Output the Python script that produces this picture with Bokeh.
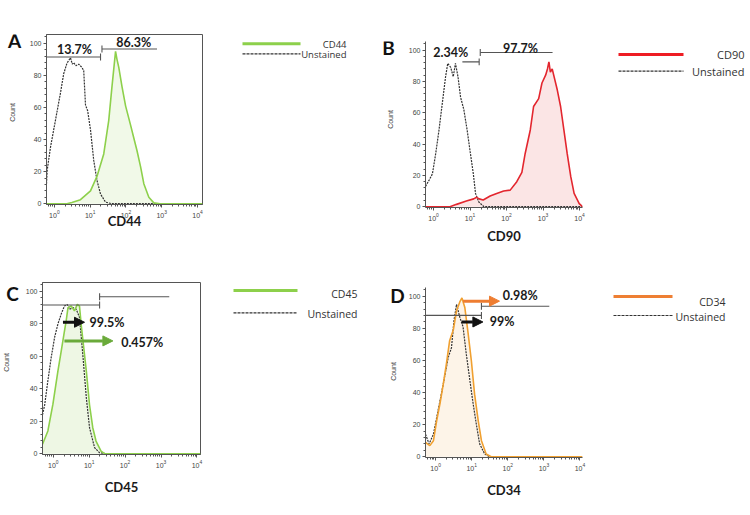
from bokeh.plotting import figure
from bokeh.layouts import column, row
from bokeh.models import Range1d, Arrow, NormalHead, SingleIntervalTicker
from bokeh.core.properties import value
from bokeh.embed import file_html
from bokeh.resources import INLINE
import math

# ---------------- data (x in log10 decades of fluorescence, y = count) -------------
A_cd44_log = [-0.22, 0.35, 0.49, 0.73, 1.01, 1.19, 1.38, 1.52, 1.61, 1.71, 1.75, 1.80, 1.89,
              1.99, 2.13, 2.22, 2.31, 2.41, 2.50, 2.64, 2.78, 2.95, 4.14]
A_cd44_cnt = [0, 0, 0.8, 2.5, 8, 17, 31, 52, 73, 95, 90, 85, 73, 61, 49, 41, 33, 23, 12.5,
              4, 0.5, 0, 0]
A_unst_log = [-0.22, -0.2, -0.11, 0.03, 0.17, 0.26, 0.35, 0.45, 0.5, 0.54, 0.6, 0.68, 0.77,
              0.82, 0.87, 0.93, 1.01, 1.1, 1.19, 1.29, 1.43, 1.6, 4.14]
A_unst_cnt = [12.5, 21, 35, 52, 69, 81, 87.5, 91, 87, 88, 86, 87, 85, 83, 61.5, 58, 46, 27,
              14.6, 6, 1, 0, 0]

B_cd90_log = [-0.22, 0.45, 0.63, 0.9, 1.1, 1.18, 1.25, 1.36, 1.55, 1.73, 1.92, 2.1, 2.28,
              2.42, 2.51, 2.65, 2.74, 2.88, 2.97, 3.07, 3.12, 3.16, 3.2, 3.25, 3.39, 3.48,
              3.57, 3.66, 3.76, 3.85, 3.99, 4.08]
B_cd90_cnt = [0, 0, 1.5, 3.6, 5, 6, 5, 4.3, 6.8, 8.5, 10, 10.6, 16, 22, 34, 49, 64, 69, 79,
              84, 88, 92.5, 86, 88, 74.5, 64, 49, 34, 19, 8.5, 2, 0]
B_unst_log = [-0.22, -0.12, -0.03, 0.06, 0.15, 0.24, 0.33, 0.39, 0.47, 0.54, 0.6, 0.67,
              0.74, 0.83, 0.92, 1.01, 1.09, 1.15, 1.24, 1.38, 4.08]
B_unst_cnt = [13, 17, 21, 34, 49, 66, 83, 91.5, 89, 83, 91.5, 83, 70, 62, 49, 34, 21, 8.5,
              3, 0, 0]

C_cd45_log = [-0.3, -0.15, -0.01, 0.13, 0.22, 0.3, 0.36, 0.41, 0.5, 0.59, 0.67, 0.73, 0.78,
              0.92, 1.01, 1.1, 1.19, 1.33, 1.43, 4.1]
C_cd45_cnt = [5.8, 14, 30.5, 51, 63, 74, 82, 90, 91, 88, 92, 91, 79, 51, 30, 16, 7.8, 1.6,
              0, 0]
C_unst_log = [-0.3, -0.24, -0.15, -0.06, 0.04, 0.13, 0.22, 0.31, 0.39, 0.45, 0.55, 0.64,
              0.73, 0.82, 0.92, 1.01, 1.15, 1.29, 1.45, 4.1]
C_unst_cnt = [24, 30, 45, 59, 72, 80, 86, 91, 92, 89, 90, 89, 84, 61.7, 34.6, 16, 3.7, 0.6,
              0, 0]

D_cd34_log = [-0.28, -0.16, -0.06, 0.03, 0.12, 0.21, 0.3, 0.39, 0.49, 0.58, 0.67, 0.73,
              0.81, 0.9, 0.99, 1.08, 1.18, 1.27, 1.4, 1.54, 4.07]
D_cd34_cnt = [9, 6.9, 10, 22.5, 33, 45, 58, 72.5, 79, 91, 96.5, 99, 93, 77, 60, 39, 22.5,
              10, 1.7, 0, 0]
D_unst_log = [-0.28, -0.18, -0.06, 0.07, 0.21, 0.35, 0.44, 0.51, 0.58, 0.67, 0.76, 0.85,
              0.95, 1.04, 1.13, 1.22, 1.36, 1.5, 4.07]
D_unst_cnt = [14, 8, 14, 29, 45, 62, 68, 85, 95, 87, 81, 64, 47.5, 33, 20, 8, 1.7, 0, 0]

# gates: start / end (log10), height (count), boundary tick (log10)
A_gate_start = [-0.22, 1.33]
A_gate_end = [1.29, 2.87]
A_gate_y = [91.5, 96.5]
A_gate_tick = [1.29, 1.33]
A_pct_text = ["13.7%", "86.3%"]
A_pct_log = [0.56, 2.22]
A_pct_y = [96.3, 100.6]

B_gate_start = [0.79, 1.28]
B_gate_end = [1.25, 3.26]
B_gate_y = [92.5, 98.5]
B_gate_tick = [1.25, 1.28]
B_pct_text = ["2.34%", "97.7%"]
B_pct_log = [0.47, 2.38]
B_pct_y = [98.3, 101.0]

C_gate_start = [-0.3, 1.29]
C_gate_end = [1.29, 3.23]
C_gate_y = [91.6, 96.7]
C_gate_tick = [1.29, 1.29]
C_arrow_start = [0.27, 0.31]
C_arrow_end = [0.87, 1.66]
C_arrow_y = [81, 69.5]
C_pct_text = ["99.5%", "0.457%"]
C_pct_log = [1.01, 1.89]
C_pct_y = [81, 68.5]

D_gate_start = [-0.28, 1.27]
D_gate_end = [1.27, 3.15]
D_gate_y = [88.1, 93.8]
D_gate_tick = [1.27, 1.27]
D_arrow_start = [0.76, 0.72]
D_arrow_end = [1.77, 1.31]
D_arrow_y = [97, 84]
D_pct_text = ["0.98%", "99%"]
D_pct_log = [1.86, 1.5]
D_pct_y = [100.6, 84]

UNSTAINED = "Unstained"
COUNT = "Count"
AXIS_C = "#555555"
DOT_C = "#333333"
H = 257


def pw(vals):
    return [10 ** v for v in vals]


def blank(width, bt, bb):
    # plain drawing strip; its frame is aligned with the chart's frame (top bt,
    # bottom bb), so the y range is chosen so one data unit = one pixel, measured upward
    f = figure(width=width, height=H, x_axis_location=None, y_axis_location=None,
               x_range=Range1d(0, width), y_range=Range1d(bb, H - bt),
               output_backend="svg", toolbar_location=None,
               min_border_left=0, min_border_right=0, min_border_top=bt,
               min_border_bottom=bb)
    f.grid.visible = False
    f.outline_line_color = None
    return f


def make_panel(letter, marker, s_log, s_cnt, u_log, u_cnt, x_lo, x_hi, line_color,
               fill_color, legend_color, side, chart, outline, letter_xy, count_xy,
               leg, leg_font, label_standoff, gates, pcts, arrows=None):
    bl, fw, br, bt, bb = chart

    # ---- left strip: panel letter and "Count"
    left = blank(side, bt, bb)
    left.text(x=[letter_xy[0]], y=[H - letter_xy[1]], text=[letter],
              text_font=value("Lato"), text_font_style="bold", text_font_size="19px",
              text_align="center", text_baseline="middle", text_color="#111111")
    left.text(x=[count_xy[0]], y=[H - count_xy[1]], text=[COUNT], angle=math.pi / 2,
              text_font=value("Liberation Sans"), text_font_size="7px",
              text_align="center", text_baseline="middle", text_color="#444444")

    # ---- chart
    p = figure(width=bl + fw + br, height=H, x_axis_type="log",
               x_range=Range1d(10 ** x_lo, 10 ** x_hi), y_range=Range1d(-0.5, 105.5),
               output_backend="svg", toolbar_location=None,
               min_border_left=bl, min_border_right=br, min_border_top=bt,
               min_border_bottom=bb)
    p.grid.visible = False
    p.outline_line_color = AXIS_C if outline else None

    sx = pw(s_log)
    p.varea(x=sx, y1=[0] * len(sx), y2=s_cnt, fill_color=fill_color)
    p.line(pw(u_log), u_cnt, line_color=DOT_C, line_dash="2 1", line_width=1.2)
    p.line(sx, s_cnt, line_color=line_color, line_width=1.6)

    g_start, g_end, g_y, g_tick = gates
    p.segment(x0=pw(g_start), y0=g_y, x1=pw(g_end), y1=g_y, line_color=AXIS_C,
              line_width=1.1)
    p.segment(x0=pw(g_tick), y0=[v - 2.2 for v in g_y], x1=pw(g_tick),
              y1=[v + 2.2 for v in g_y], line_color=AXIS_C, line_width=1.1)

    if arrows is not None:
        a_start, a_end, a_y, a_col = arrows
        for x0, x1, y, c in zip(a_start, a_end, a_y, a_col):
            p.add_layout(Arrow(end=NormalHead(size=10, fill_color=c, line_color=c),
                               x_start=10 ** x0, y_start=y, x_end=10 ** x1, y_end=y,
                               line_color=c, line_width=3))

    p_text, p_log, p_y, p_align = pcts
    p.text(x=pw(p_log), y=p_y, text=p_text, text_font=value("Lato"),
           text_font_style="bold", text_font_size="12.5px", text_align=p_align,
           text_baseline="middle", text_color="#1a1a1a")

    xa = p.xaxis[0]
    ya = p.yaxis[0]
    for ax in (xa, ya):
        ax.axis_line_color = AXIS_C
        ax.major_tick_line_color = AXIS_C
        ax.minor_tick_line_color = AXIS_C
        ax.major_tick_in = 0
        ax.major_tick_out = 3
        ax.minor_tick_in = 0
        ax.minor_tick_out = 2
        ax.major_label_text_font_size = "7px"
        ax.major_label_text_color = "#444444"
        ax.major_label_text_font = "Liberation Sans"
        ax.major_label_standoff = 2
    ya.ticker = SingleIntervalTicker(interval=20, num_minor_ticks=5)
    xa.axis_label = marker
    xa.axis_label_text_font = "Lato"
    xa.axis_label_text_font_style = "bold"
    xa.axis_label_text_font_size = "13px"
    xa.axis_label_text_color = "#1a1a1a"
    xa.axis_label_standoff = label_standoff

    # ---- right strip: legend (sample lines + right-aligned labels)
    rw = 375 - side - (bl + fw + br)
    rf = blank(rw, bt, bb)
    x0, x1, y1, y2, lab_r, ly1, ly2 = leg
    rf.segment(x0=[x0], y0=[H - y1], x1=[x1], y1=[H - y1], line_color=legend_color,
               line_width=3)
    rf.segment(x0=[x0], y0=[H - y2], x1=[x1], y1=[H - y2], line_color=DOT_C,
               line_dash="3 1", line_width=1.2)
    rf.text(x=[lab_r, lab_r], y=[H - ly1, H - ly2], text=[marker, UNSTAINED],
            text_font=value("Open Sans"), text_font_size=leg_font, text_align="right",
            text_baseline="middle", text_color="#333333")
    return row(left, p, rf)


pA = make_panel("A", "CD44", A_cd44_log, A_cd44_cnt, A_unst_log, A_unst_cnt, -0.22, 4.14,
                "#8dd04b", "#f1f9e8", "#8dd04b", 24, (22, 156, 12, 34, 53), True,
                (14, 40), (12, 112), (28, 86, 43.3, 53.3, 132, 44.2, 54.2), "9.5px", -8,
                (A_gate_start, A_gate_end, A_gate_y, A_gate_tick),
                (A_pct_text, A_pct_log, A_pct_y, "center"))
pB = make_panel("B", "CD90", B_cd90_log, B_cd90_cnt, B_unst_log, B_unst_cnt, -0.22, 4.08,
                "#e3262e", "#fbe5e5", "#ee1d23", 24, (26, 157, 12, 41, 50), False,
                (13, 47), (15, 119), (24, 89, 54, 70.7, 150, 54, 71), "11px", 4,
                (B_gate_start, B_gate_end, B_gate_y, B_gate_tick),
                (B_pct_text, B_pct_log, B_pct_y, "center"))
pC = make_panel("C", "CD45", C_cd45_log, C_cd45_cnt, C_unst_log, C_unst_cnt, -0.3, 4.1,
                "#8dd04b", "#eef7e4", "#8dd04b", 22, (19, 159, 12, 25, 60), True,
                (12, 36), (6, 105), (21, 85, 33, 55.3, 145, 36.3, 56.5), "10.5px", 8,
                (C_gate_start, C_gate_end, C_gate_y, C_gate_tick),
                (C_pct_text, C_pct_log, C_pct_y, "left"),
                (C_arrow_start, C_arrow_end, C_arrow_y, ["#111111", "#6aaa3a"]))
pD = make_panel("D", "CD34", D_cd34_log, D_cd34_cnt, D_unst_log, D_unst_cnt, -0.28, 4.07,
                "#f0a030", "#fdf4e8", "#ee7f33", 30, (19, 158, 12, 30, 57), False,
                (22, 38), (18, 114), (19, 78, 39, 58, 131, 44.7, 59), "10.5px", 8,
                (D_gate_start, D_gate_end, D_gate_y, D_gate_tick),
                (D_pct_text, D_pct_log, D_pct_y, "left"),
                (D_arrow_start, D_arrow_end, D_arrow_y, ["#ee7d31", "#111111"]))

layout = column(row(pA, pB), row(pC, pD))
open("out.html", "w").write(file_html(layout, INLINE))
